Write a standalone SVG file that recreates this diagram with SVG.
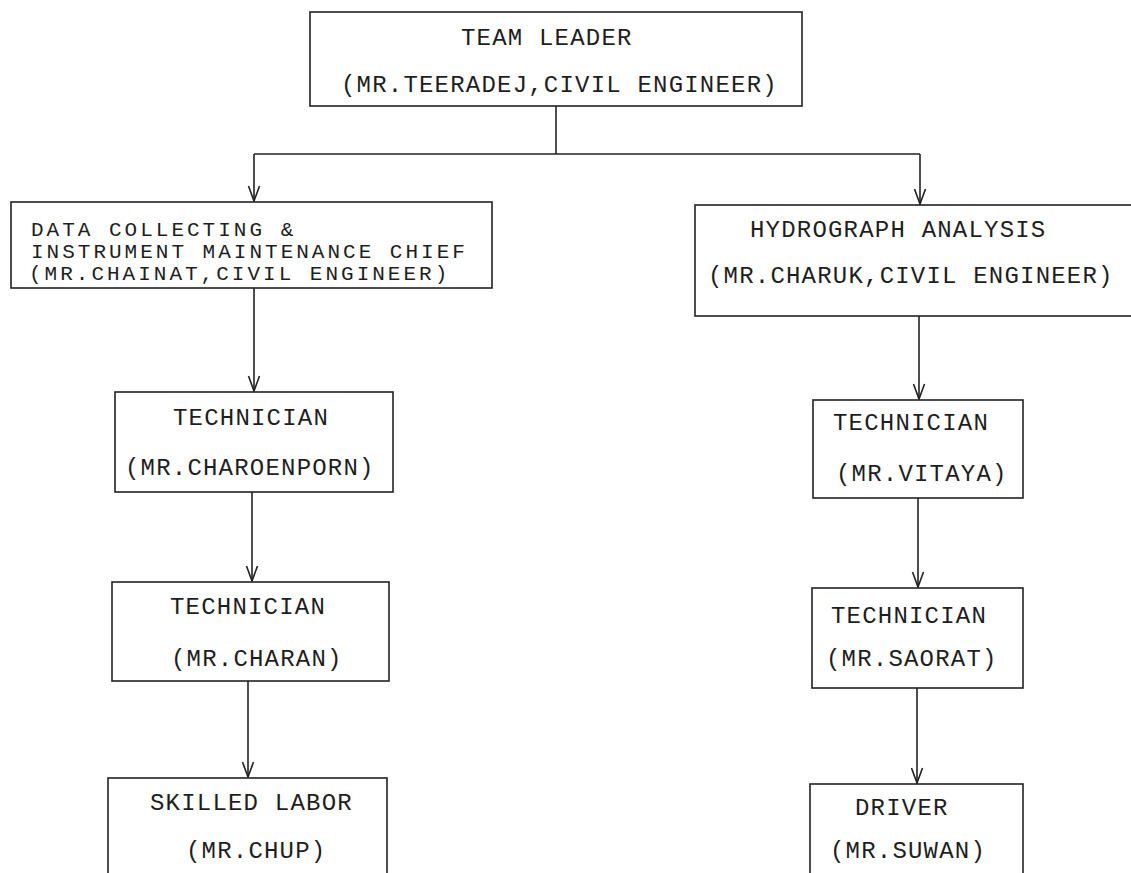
<svg xmlns="http://www.w3.org/2000/svg" width="1131" height="873" viewBox="0 0 1131 873">
<style>
.box{fill:#fff;stroke:#222;stroke-width:1.6}
.t{font-family:"Liberation Mono","Courier New",monospace;font-size:24px;letter-spacing:1.2px;fill:#1e1e1e}
.s{font-family:"Liberation Mono","Courier New",monospace;font-size:21px;letter-spacing:3px;fill:#1e1e1e}
.c{fill:none;stroke:#222;stroke-width:1.6}
</style>
<defs>
<marker id="ah" viewBox="-16 -7 18 14" refX="0" refY="0" markerWidth="18" markerHeight="14" markerUnits="userSpaceOnUse" orient="auto">
<path d="M-15,-5.5 L0,0 L-15,5.5" fill="none" stroke="#222" stroke-width="1.6"/>
</marker>
</defs>
<rect width="1131" height="873" fill="#fff"/>
<g id="connectors">
<path class="c" d="M556,106 V154"/>
<path class="c" d="M254,154 H920"/>
<path class="c" d="M254,154 V201" marker-end="url(#ah)"/>
<path class="c" d="M920,154 V204" marker-end="url(#ah)"/>
<path class="c" d="M254,288 V391" marker-end="url(#ah)"/>
<path class="c" d="M919,316 V399" marker-end="url(#ah)"/>
<path class="c" d="M252,492 V581" marker-end="url(#ah)"/>
<path class="c" d="M918,498 V587" marker-end="url(#ah)"/>
<path class="c" d="M248,681 V777" marker-end="url(#ah)"/>
<path class="c" d="M917,688 V783" marker-end="url(#ah)"/>
</g>
<g id="team-leader">
<rect class="box" x="310" y="12" width="492" height="94"/>
<text class="t" x="461" y="45">TEAM LEADER</text>
<text class="t" x="341" y="92">(MR.TEERADEJ,CIVIL ENGINEER)</text>
</g>
<g id="data-collecting">
<rect class="box" x="11" y="202" width="481" height="86"/>
<text class="s" x="31" y="236">DATA COLLECTING &amp;</text>
<text class="s" x="31" y="258">INSTRUMENT MAINTENANCE CHIEF</text>
<text class="s" x="29" y="280">(MR.CHAINAT,CIVIL ENGINEER)</text>
</g>
<g id="hydrograph">
<rect class="box" x="695" y="205" width="450" height="111"/>
<text class="t" x="750" y="237">HYDROGRAPH ANALYSIS</text>
<text class="t" x="708" y="283">(MR.CHARUK,CIVIL ENGINEER)</text>
</g>
<g id="tech-charoenporn">
<rect class="box" x="115" y="392" width="278" height="100"/>
<text class="t" x="173" y="425">TECHNICIAN</text>
<text class="t" x="125" y="475">(MR.CHAROENPORN)</text>
</g>
<g id="tech-charan">
<rect class="box" x="112" y="582" width="277" height="99"/>
<text class="t" x="170" y="614">TECHNICIAN</text>
<text class="t" x="171" y="666">(MR.CHARAN)</text>
</g>
<g id="skilled-labor">
<rect class="box" x="108" y="778" width="279" height="110"/>
<text class="t" x="150" y="810">SKILLED LABOR</text>
<text class="t" x="186" y="858">(MR.CHUP)</text>
</g>
<g id="tech-vitaya">
<rect class="box" x="813" y="400" width="210" height="98"/>
<text class="t" x="833" y="430">TECHNICIAN</text>
<text class="t" x="836" y="481">(MR.VITAYA)</text>
</g>
<g id="tech-saorat">
<rect class="box" x="812" y="588" width="211" height="100"/>
<text class="t" x="831" y="623">TECHNICIAN</text>
<text class="t" x="826" y="666">(MR.SAORAT)</text>
</g>
<g id="driver">
<rect class="box" x="810" y="784" width="213" height="104"/>
<text class="t" x="855" y="815">DRIVER</text>
<text class="t" x="830" y="858">(MR.SUWAN)</text>
</g>
</svg>
